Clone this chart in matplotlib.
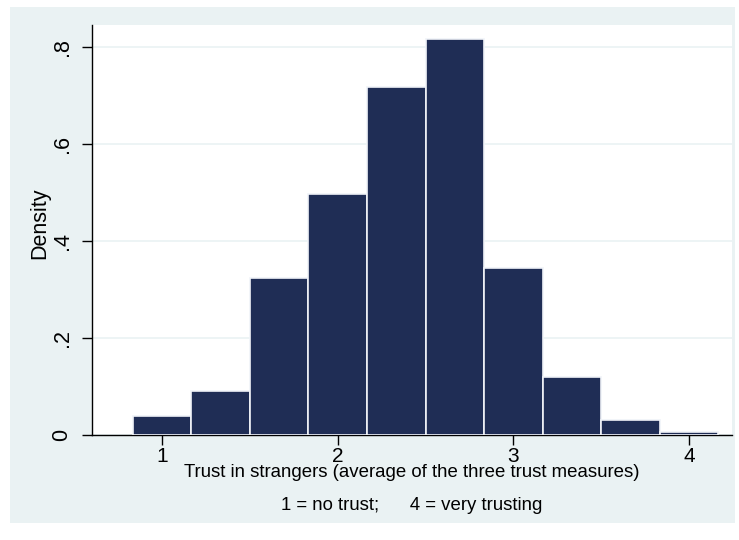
import numpy as np
import matplotlib.pyplot as plt
from matplotlib.patches import Rectangle

plt.rcParams['font.family'] = ['Liberation Sans', 'DejaVu Sans']

# histogram of trust index, 10 bins of width 1/3
bin_width = 1/3
bin_left = [0.8333, 1.1667, 1.5, 1.8333, 2.1667, 2.5, 2.8333, 3.1667, 3.5, 3.8333]
density = [0.038, 0.090, 0.322, 0.497, 0.718, 0.817, 0.344, 0.118, 0.029, 0.005]

yticks = [0, 0.2, 0.4, 0.6, 0.8]
ytick_labels = ['0', '.2', '.4', '.6', '.8']
xticks = [1, 2, 3, 4]

bg = '#eaf2f3'
navy = '#1f2d55'

fig = plt.figure(figsize=(7.39, 5.40), dpi=100, facecolor='white')
fig.patches.append(Rectangle((10/739, 17/540), 725/739, 516/540,
                             transform=fig.transFigure, facecolor=bg,
                             edgecolor='none', zorder=-10))

ax = fig.add_axes([92/739, 105.5/540, 640/739, 409.5/540])
ax.set_facecolor('white')
ax.bar(bin_left, density, width=bin_width, align='edge', color=navy,
       edgecolor='#f0f3f8', linewidth=1.2, zorder=3)

ax.set_xlim(0.602, 4.244)
ax.set_ylim(0, 0.845)
ax.set_yticks(yticks)
ax.set_yticklabels(ytick_labels, rotation=90, va='center', fontsize=15.5)
ax.set_xticks(xticks)
ax.set_xticklabels([str(t) for t in xticks], fontsize=15)
ax.yaxis.grid(True, color=bg, linewidth=1.2, zorder=0)
ax.set_axisbelow(True)

for s in ['top', 'right']:
    ax.spines[s].set_visible(False)
for s in ['left', 'bottom']:
    ax.spines[s].set_color('black')
    ax.spines[s].set_linewidth(1.0)

ax.tick_params(axis='both', direction='out', length=7, width=1, colors='black')
ax.tick_params(axis='y', pad=7)
ax.tick_params(axis='x', pad=2)

ax.set_ylabel('Density', fontsize=15.5)
ax.yaxis.set_label_coords(-0.066, 0.515)
ax.set_xlabel('Trust in strangers (average of the three trust measures)',
              fontsize=13.4)
ax.xaxis.set_label_coords(0.5, -0.073)
fig.text((92 + 732) / 2 / 739, 1 - 506/540,
         '1 = no trust;      4 = very trusting', ha='center', va='center',
         fontsize=13.4)

fig.savefig('out.png', dpi=100, facecolor='white')
